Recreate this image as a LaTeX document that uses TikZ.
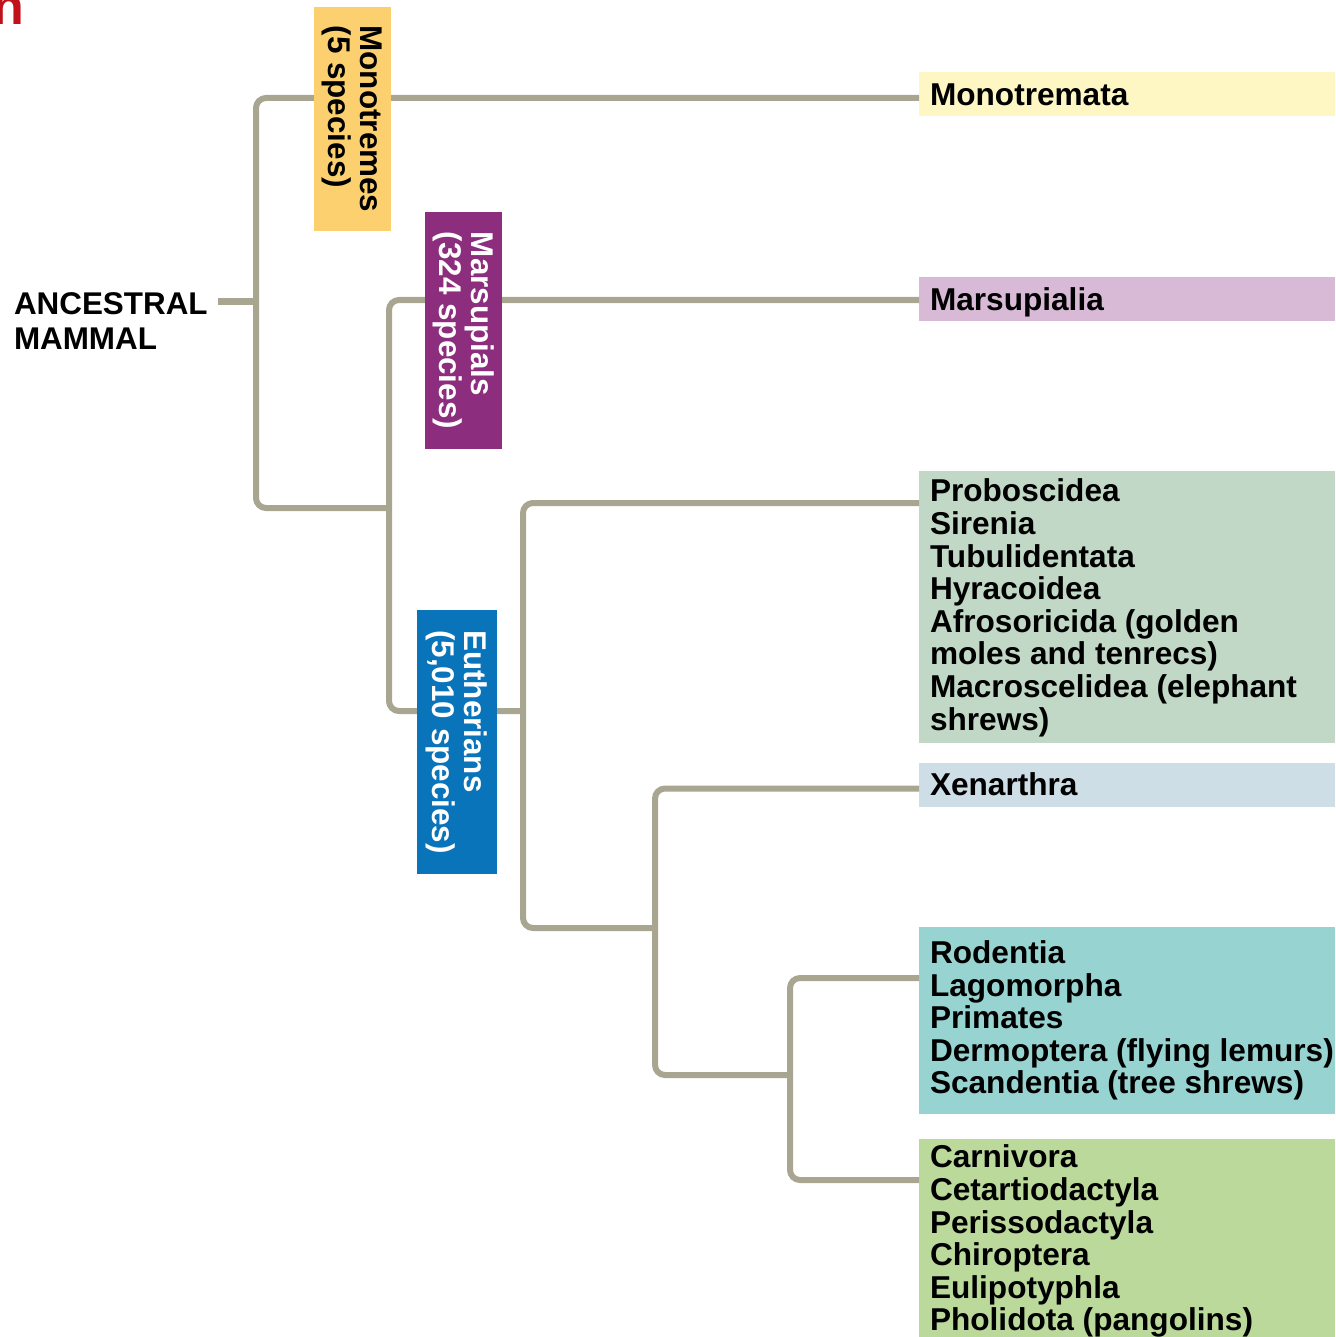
\documentclass[tikz,border=0pt]{standalone}
\usepackage{fontspec}
\setmainfont{Liberation Sans}
\usetikzlibrary{calc}
\definecolor{linec}{HTML}{A8A590}
\definecolor{monoY}{HTML}{FCD06F}
\definecolor{marsP}{HTML}{8C2D7D}
\definecolor{euthB}{HTML}{0A74BB}
\definecolor{bMono}{HTML}{FEF7C4}
\definecolor{bMars}{HTML}{D8B9D6}
\definecolor{bAfro}{HTML}{C0D8C5}
\definecolor{bXen}{HTML}{CDDEE6}
\definecolor{bEuar}{HTML}{97D3D1}
\definecolor{bLaur}{HTML}{BAD99B}
\definecolor{redN}{HTML}{C1121B}
\tikzset{
  branch/.style={draw=linec, line width=6pt, rounded corners=10pt},
  lab/.style={font=\fontsize{31.6}{32.6}\selectfont\bfseries, inner sep=0pt, outer sep=0pt, align=left, text=black},
  vbox/.style={font=\fontsize{31.4}{32}\selectfont\bfseries, rotate=-90, align=left, inner sep=0pt, outer sep=0pt},
  cbox/.style={anchor=north west, minimum width=416pt, inner sep=0pt, outer sep=0pt},
}
\begin{document}
\begin{tikzpicture}[x=1pt,y=-1pt]
\useasboundingbox (0,0) rectangle (1335,1337);
% red letter fragment
\node[font=\fontsize{52}{52}\selectfont\bfseries, text=redN, anchor=base east, inner sep=0pt] (redn) at (24,25) {n};
% right-hand boxes
\node[cbox, fill=bMono, minimum height=44pt] (monob) at (919,72) {};
\node[cbox, fill=bMars, minimum height=44pt] (marsb) at (919,277) {};
\node[cbox, fill=bAfro, minimum height=272pt] (afro) at (919,471) {};
\node[cbox, fill=bXen, minimum height=44pt] (xen) at (919,763) {};
\node[cbox, fill=bEuar, minimum height=187pt] (euar) at (919,927) {};
\node[cbox, fill=bLaur, minimum height=210pt] (laur) at (919,1139) {};
% internal branch points
\coordinate (root) at (256,301.5);
\coordinate (n1) at (389,508);
\coordinate (n2) at (523,711);
\coordinate (n3) at (655,928);
\coordinate (n4) at (790,1075);
% ancestral label
\node[lab, anchor=north west, font=\fontsize{31.4}{34.3}\selectfont\bfseries] (anc) at (14,293) {ANCESTRAL\\MAMMAL};
% tree
\draw[branch] ($(anc.east |- root)+(10pt,0)$) -- (root);
\draw[branch] ([yshift=-4pt]monob.west) -| (root) |- (n1);
\draw[branch] ([yshift=-1pt]marsb.west) -| (n1) |- (n2);
\draw[branch] ([yshift=-32pt]afro.north west) -| (n2) |- (n3);
\draw[branch] ([yshift=-3.5pt]xen.west) -| (n3) |- (n4);
\draw[branch] ([yshift=-51pt]euar.north west) -| (n4) |- ([yshift=-41pt]laur.north west);
% rotated clade boxes
\node[vbox, fill=monoY, text=black, minimum width=224pt, minimum height=77pt] (monot) at (352.5,119) {Monotremes\\(5 species)};
\node[vbox, fill=marsP, text=white, minimum width=237pt, minimum height=77pt] (marsu) at (463.5,330.5) {Marsupials\\(324 species)};
\node[vbox, fill=euthB, text=white, minimum width=264pt, minimum height=80pt] (euth) at (457,742) {Eutherians\\(5,010 species)};
% right-hand texts
\node[lab, anchor=base west] (monobt) at ([xshift=11pt,yshift=-12pt]monob.west) {Monotremata};
\node[lab, anchor=base west] (marsbt) at ([xshift=11pt,yshift=-11.5pt]marsb.west) {Marsupialia};
\node[lab, anchor=north west] (afrot) at ([xshift=11pt,yshift=-8pt]afro.north west) {Proboscidea\\Sirenia\\Tubulidentata\\Hyracoidea\\Afrosoricida (golden\\moles and tenrecs)\\Macroscelidea (elephant\\shrews)};
\node[lab, anchor=base west] (xent) at ([xshift=11pt,yshift=-10pt]xen.west) {Xenarthra};
\node[lab, anchor=north west] (euart) at ([xshift=11pt,yshift=-13.5pt]euar.north west) {Rodentia\\Lagomorpha\\Primates\\Dermoptera (flying lemurs)\\Scandentia (tree shrews)};
\node[lab, anchor=north west] (laurt) at ([xshift=11pt,yshift=-6pt]laur.north west) {Carnivora\\Cetartiodactyla\\Perissodactyla\\Chiroptera\\Eulipotyphla\\Pholidota (pangolins)};
\end{tikzpicture}
\end{document}
